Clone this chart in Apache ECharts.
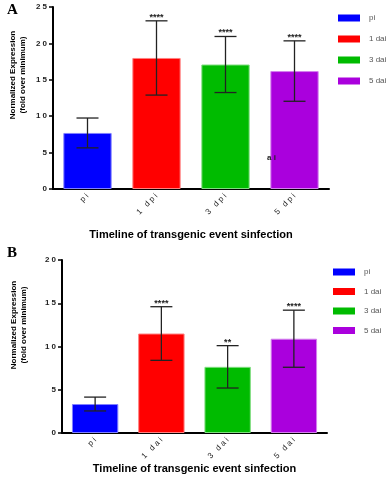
<!DOCTYPE html>
<html><head><meta charset="utf-8">
<script src="https://cdn.jsdelivr.net/npm/echarts@6/dist/echarts.min.js"></script>
<style>html,body{margin:0;padding:0;background:#fff}#c{width:388px;height:484px}</style>
</head><body><div id="c"></div>
<script>
const catsA = ['pi', '1 dpi', '3 dpi', '5 dpi'];
const catsB = ['pi', '1 dai', '3 dai', '5 dai'];
const legendNames = ['pi', '1 dai', '3 dai', '5 dai'];
const meanA = [7.7, 18.0, 17.1, 16.2];
const errA = [2.05, 5.1, 3.85, 4.15];
const starsA = ['', '****', '****', '****'];
const meanB = [3.35, 11.5, 7.65, 10.9];
const errB = [0.8, 3.1, 2.45, 3.3];
const starsB = ['', '****', '**', '****'];
const yTicksA = [0, 25, 5];
const yTicksB = [0, 20, 5];
const colors = ['#0000FF', '#FF0000', '#00BB00', '#AA00DD'];
const borders = ['#8080ff', '#ff8080', '#80dd80', '#d480ee'];

const chart = echarts.init(document.getElementById('c'));
const spaced = v => String(v).split('').join(' ');
const font = 'Liberation Sans, Arial, sans-serif';

function barSeries(gi, means) {
  return legendNames.map((n, i) => ({
    type: 'bar', name: n, xAxisIndex: gi, yAxisIndex: gi, stack: 's' + gi,
    barWidth: '70%',
    data: means.map((v, j) => j === i ? v : '-'),
    itemStyle: { color: colors[i], borderColor: borders[i], borderWidth: 1 },
    z: 2
  }));
}
function errSeries(gi, means, errs, stars) {
  return {
    type: 'custom', xAxisIndex: gi, yAxisIndex: gi, z: 5,
    data: means.map((m, i) => [i, m - errs[i], m + errs[i], i]),
    renderItem: (params, api) => {
      const x = api.value(0);
      const lo = api.coord([x, api.value(1)]);
      const hi = api.coord([x, api.value(2)]);
      const hw = 11;
      const st = { stroke: '#222', lineWidth: 1.3 };
      const ch = [
        { type: 'line', shape: { x1: lo[0], y1: lo[1], x2: hi[0], y2: hi[1] }, style: st },
        { type: 'line', shape: { x1: lo[0] - hw, y1: lo[1], x2: lo[0] + hw, y2: lo[1] }, style: st },
        { type: 'line', shape: { x1: hi[0] - hw, y1: hi[1], x2: hi[0] + hw, y2: hi[1] }, style: st }
      ];
      const s = stars[api.value(3)];
      if (s) ch.push({ type: 'text', style: { text: s, x: hi[0], y: hi[1] + 1, align: 'center', verticalAlign: 'bottom', font: 'bold 9px ' + font, fill: '#222' } });
      return { type: 'group', children: ch };
    }
  };
}
function xAx(gi, cats, gap) {
  return {
    type: 'category', gridIndex: gi, data: cats,
    axisLine: { lineStyle: { color: '#000', width: 2 } },
    axisTick: { alignWithLabel: true, length: 4, lineStyle: { color: '#000', width: 2 } },
    axisLabel: { rotate: 45, fontSize: 8, color: '#222', fontFamily: font, formatter: v => spaced(v), margin: 6 },
    name: 'Timeline of transgenic event sinfection', nameLocation: 'middle', nameGap: gap,
    nameTextStyle: { fontSize: 11, fontWeight: 'bold', color: '#000', fontFamily: font }
  };
}
function yAx(gi, t) {
  return {
    type: 'value', gridIndex: gi, min: t[0], max: t[1], interval: t[2],
    splitLine: { show: false },
    axisLine: { show: true, lineStyle: { color: '#000', width: 2 } },
    axisTick: { show: true, length: 4, lineStyle: { color: '#000', width: 1.5 } },
    axisLabel: { fontSize: 8, fontWeight: 'bold', color: '#222', fontFamily: font, formatter: v => spaced(v), margin: 6 }
  };
}
function legend(top, left, gap) {
  return {
    data: legendNames, orient: 'vertical', top: top, left: left, itemWidth: 22, itemHeight: 7, itemGap: gap,
    icon: 'rect', selectedMode: false, itemStyle: { borderWidth: 0 },
    textStyle: { fontSize: 8, color: '#555', fontFamily: font, padding: [0, 0, 0, 4] }
  };
}
function yTitle(x, y) {
  return { type: 'text', x: x, y: y, rotation: Math.PI / 2, z: 100,
    style: { text: 'Normalized Expression\n(fold over minimum)', x: 0, y: 0, align: 'center', verticalAlign: 'middle',
      font: 'bold 8px ' + font, lineHeight: 10.5, fill: '#000' } };
}

chart.setOption({
  animation: false,
  grid: [
    { left: 53, top: 7, width: 276, height: 182 },
    { left: 62, top: 260, width: 265, height: 173 }
  ],
  xAxis: [xAx(0, catsA, 40), xAx(1, catsB, 26)],
  yAxis: [yAx(0, yTicksA), yAx(1, yTicksB)],
  legend: [legend(9, 333, 13), legend(263, 328, 11.5)],
  series: [
    ...barSeries(0, meanA), errSeries(0, meanA, errA, starsA),
    ...barSeries(1, meanB), errSeries(1, meanB, errB, starsB)
  ],
  graphic: [
    { type: 'text', left: 7, top: 3, z: 100, style: { text: 'A', font: 'bold 15px Liberation Serif, serif', fill: '#000' } },
    { type: 'text', left: 7, top: 246, z: 100, style: { text: 'B', font: 'bold 15px Liberation Serif, serif', fill: '#000' } },
    { type: 'text', left: 267, top: 154, z: 100, style: { text: 'a i', font: 'bold 8px ' + font, fill: '#222' } },
    yTitle(18, 75), yTitle(19, 325)
  ]
});
</script></body></html>
